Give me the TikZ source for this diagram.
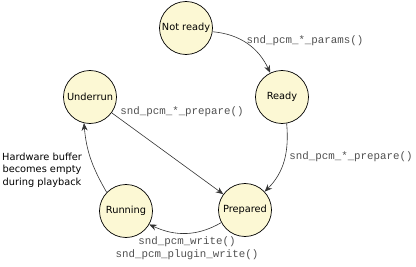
\documentclass[tikz,border=0pt]{standalone}
\usepackage{fontspec}
\setmainfont{DejaVu Sans}
\newfontfamily\monof{Liberation Mono}
\usetikzlibrary{arrows.meta}
\definecolor{statefill}{HTML}{FCF8D4}
\definecolor{codegray}{HTML}{505050}
\begin{document}
\begin{tikzpicture}[x=1pt,y=1pt,
  state/.style={circle,draw=black,line width=0.7pt,fill=statefill,minimum size=53pt,inner sep=0pt,font=\fontsize{9.8}{11}\selectfont},
  trans/.style={draw=black!80,line width=0.6pt,-{Stealth[length=7.5pt,width=6pt]}},
  code/.style={font=\monof\fontsize{10.8}{13}\selectfont,text=codegray,inner sep=0pt,align=center},
  note/.style={font=\fontsize{9.8}{12.5}\selectfont,inner sep=0pt,align=center}]
\useasboundingbox (0,0) rectangle (416,266);
\node[state] (notready) at (186,238) {Not ready};
\node[state] (ready) at (282,169) {Ready};
\node[state] (underrun) at (90,169) {Underrun};
\node[state] (running) at (126,55) {Running};
\node[state] (prepared) at (245,56) {Prepared};

\draw[trans] (notready.-8) to[out=-5,in=115] (ready.116);
\draw[trans] (ready.-80) to[out=-85,in=45] (prepared.43);
\draw[trans] (underrun) -- (prepared);
\draw[trans] (prepared.208) to[out=-150,in=-25] (running.-30);
\draw[trans] (running.136) to[out=120,in=-85] (underrun.-103);

\node[code] (lparams) at (305,225) {snd\_pcm\_*\_params()};
\node[code] (lprep1) at (182,154) {snd\_pcm\_*\_prepare()};
\node[code] (lprep2) at (351,109) {snd\_pcm\_*\_prepare()};
\node[note] (lhw) at (42,96) {Hardware buffer\\becomes empty\\during playback};
\node[code] (lwrite) at (187,17.5) {snd\_pcm\_write()\\snd\_pcm\_plugin\_write()};
\end{tikzpicture}
\end{document}
